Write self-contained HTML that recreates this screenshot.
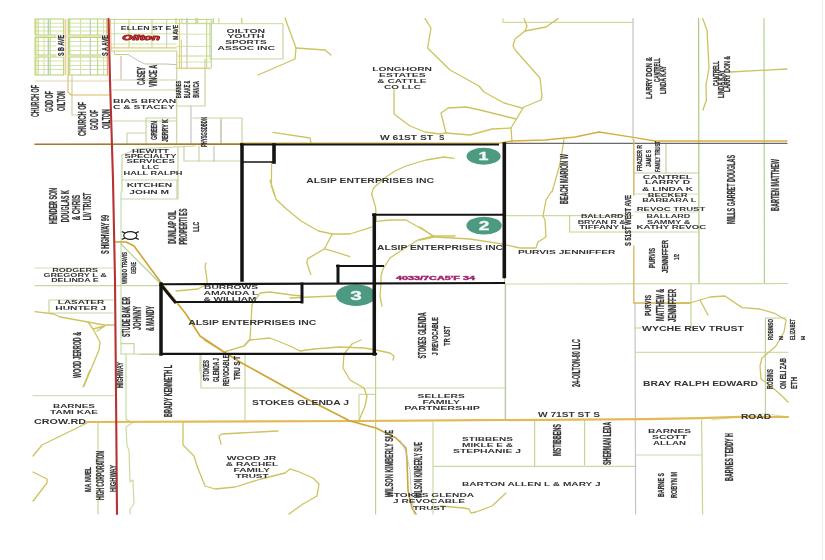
<!DOCTYPE html>
<html><head><meta charset="utf-8"><style>
html,body{margin:0;padding:0;background:#fff;width:825px;height:560px;overflow:hidden;}
svg{display:block;font-family:"Liberation Sans",sans-serif;will-change:transform;filter:blur(0.3px);}
</style></head><body>
<svg width="825" height="560" viewBox="0 0 825 560" font-family="&quot;Liberation Sans&quot;, sans-serif">
<rect width="825" height="560" fill="#ffffff"/>
<line x1="35" y1="23.2" x2="63.5" y2="23.2" stroke="#cfe2a2" stroke-width="0.9" stroke-linecap="butt"/>
<line x1="35" y1="27" x2="63.5" y2="27" stroke="#c4dc98" stroke-width="0.9" stroke-linecap="butt"/>
<line x1="35" y1="31" x2="63.5" y2="31" stroke="#cfe2a2" stroke-width="0.9" stroke-linecap="butt"/>
<line x1="35.8" y1="19" x2="35.8" y2="35" stroke="#dcdc78" stroke-width="1.4" stroke-linecap="butt"/>
<line x1="38.2" y1="19" x2="38.2" y2="35" stroke="#bcd67e" stroke-width="1.0" stroke-linecap="butt"/>
<line x1="44" y1="19" x2="44" y2="35" stroke="#cfe2a2" stroke-width="1.0" stroke-linecap="butt"/>
<line x1="48.3" y1="19" x2="48.3" y2="35" stroke="#a9c9b8" stroke-width="1.2" stroke-linecap="butt"/>
<line x1="50.2" y1="19" x2="50.2" y2="35" stroke="#bcd67e" stroke-width="1.0" stroke-linecap="butt"/>
<rect x="35" y="19" width="28.5" height="16" fill="none" stroke="#bcd67e" stroke-width="1.1"/>
<line x1="68.5" y1="23.2" x2="107.5" y2="23.2" stroke="#cfe2a2" stroke-width="0.9" stroke-linecap="butt"/>
<line x1="68.5" y1="27" x2="107.5" y2="27" stroke="#c4dc98" stroke-width="0.9" stroke-linecap="butt"/>
<line x1="68.5" y1="31" x2="107.5" y2="31" stroke="#cfe2a2" stroke-width="0.9" stroke-linecap="butt"/>
<line x1="69.7" y1="19" x2="69.7" y2="35" stroke="#bcd67e" stroke-width="1.1" stroke-linecap="butt"/>
<line x1="80.6" y1="19" x2="80.6" y2="35" stroke="#cfe2a2" stroke-width="1.0" stroke-linecap="butt"/>
<line x1="90.3" y1="19" x2="90.3" y2="35" stroke="#b8c8b8" stroke-width="1.1" stroke-linecap="butt"/>
<line x1="97.6" y1="19" x2="97.6" y2="35" stroke="#bcd67e" stroke-width="1.0" stroke-linecap="butt"/>
<line x1="103.6" y1="19" x2="103.6" y2="35" stroke="#cfe2a2" stroke-width="1.0" stroke-linecap="butt"/>
<rect x="68.5" y="19" width="39.0" height="16" fill="none" stroke="#bcd67e" stroke-width="1.1"/>
<line x1="35" y1="41.5" x2="63.5" y2="41.5" stroke="#cfe2a2" stroke-width="0.9" stroke-linecap="butt"/>
<line x1="35" y1="46" x2="63.5" y2="46" stroke="#cfe2a2" stroke-width="0.9" stroke-linecap="butt"/>
<line x1="35" y1="50.5" x2="63.5" y2="50.5" stroke="#cfe2a2" stroke-width="0.9" stroke-linecap="butt"/>
<line x1="35.8" y1="37.5" x2="35.8" y2="55" stroke="#dcdc78" stroke-width="1.4" stroke-linecap="butt"/>
<line x1="38.2" y1="37.5" x2="38.2" y2="55" stroke="#bcd67e" stroke-width="1.0" stroke-linecap="butt"/>
<line x1="44" y1="37.5" x2="44" y2="55" stroke="#cfe2a2" stroke-width="1.0" stroke-linecap="butt"/>
<line x1="48.3" y1="37.5" x2="48.3" y2="55" stroke="#a9c9b8" stroke-width="1.2" stroke-linecap="butt"/>
<line x1="50.2" y1="37.5" x2="50.2" y2="55" stroke="#bcd67e" stroke-width="1.0" stroke-linecap="butt"/>
<rect x="35" y="37.5" width="28.5" height="17.5" fill="none" stroke="#bcd67e" stroke-width="1.1"/>
<line x1="68.5" y1="41.5" x2="107.5" y2="41.5" stroke="#cfe2a2" stroke-width="0.9" stroke-linecap="butt"/>
<line x1="68.5" y1="46" x2="107.5" y2="46" stroke="#cfe2a2" stroke-width="0.9" stroke-linecap="butt"/>
<line x1="68.5" y1="50.5" x2="107.5" y2="50.5" stroke="#cfe2a2" stroke-width="0.9" stroke-linecap="butt"/>
<line x1="69.7" y1="37.5" x2="69.7" y2="55" stroke="#bcd67e" stroke-width="1.1" stroke-linecap="butt"/>
<line x1="80.6" y1="37.5" x2="80.6" y2="55" stroke="#cfe2a2" stroke-width="1.0" stroke-linecap="butt"/>
<line x1="90.3" y1="37.5" x2="90.3" y2="55" stroke="#b8c8b8" stroke-width="1.1" stroke-linecap="butt"/>
<line x1="97.6" y1="37.5" x2="97.6" y2="55" stroke="#bcd67e" stroke-width="1.0" stroke-linecap="butt"/>
<line x1="103.6" y1="37.5" x2="103.6" y2="55" stroke="#cfe2a2" stroke-width="1.0" stroke-linecap="butt"/>
<rect x="68.5" y="37.5" width="39.0" height="17.5" fill="none" stroke="#bcd67e" stroke-width="1.1"/>
<line x1="35" y1="61" x2="63.5" y2="61" stroke="#cfe2a2" stroke-width="0.9" stroke-linecap="butt"/>
<line x1="35" y1="65.5" x2="63.5" y2="65.5" stroke="#cfe2a2" stroke-width="0.9" stroke-linecap="butt"/>
<line x1="35" y1="69.5" x2="63.5" y2="69.5" stroke="#cfe2a2" stroke-width="0.9" stroke-linecap="butt"/>
<line x1="35.8" y1="57" x2="35.8" y2="75" stroke="#dcdc78" stroke-width="1.4" stroke-linecap="butt"/>
<line x1="38.2" y1="57" x2="38.2" y2="75" stroke="#bcd67e" stroke-width="1.0" stroke-linecap="butt"/>
<line x1="44" y1="57" x2="44" y2="75" stroke="#cfe2a2" stroke-width="1.0" stroke-linecap="butt"/>
<line x1="48.3" y1="57" x2="48.3" y2="75" stroke="#a9c9b8" stroke-width="1.2" stroke-linecap="butt"/>
<line x1="50.2" y1="57" x2="50.2" y2="75" stroke="#bcd67e" stroke-width="1.0" stroke-linecap="butt"/>
<rect x="35" y="57" width="28.5" height="18" fill="none" stroke="#bcd67e" stroke-width="1.1"/>
<line x1="68.5" y1="61" x2="107.5" y2="61" stroke="#cfe2a2" stroke-width="0.9" stroke-linecap="butt"/>
<line x1="68.5" y1="65.5" x2="107.5" y2="65.5" stroke="#cfe2a2" stroke-width="0.9" stroke-linecap="butt"/>
<line x1="68.5" y1="69.5" x2="107.5" y2="69.5" stroke="#cfe2a2" stroke-width="0.9" stroke-linecap="butt"/>
<line x1="69.7" y1="57" x2="69.7" y2="75" stroke="#bcd67e" stroke-width="1.1" stroke-linecap="butt"/>
<line x1="80.6" y1="57" x2="80.6" y2="75" stroke="#cfe2a2" stroke-width="1.0" stroke-linecap="butt"/>
<line x1="90.3" y1="57" x2="90.3" y2="75" stroke="#b8c8b8" stroke-width="1.1" stroke-linecap="butt"/>
<line x1="97.6" y1="57" x2="97.6" y2="75" stroke="#bcd67e" stroke-width="1.0" stroke-linecap="butt"/>
<line x1="103.6" y1="57" x2="103.6" y2="75" stroke="#cfe2a2" stroke-width="1.0" stroke-linecap="butt"/>
<rect x="68.5" y="57" width="39.0" height="18" fill="none" stroke="#bcd67e" stroke-width="1.1"/>
<line x1="35" y1="36.2" x2="108" y2="36.2" stroke="#ead6a0" stroke-width="1.0" stroke-linecap="butt"/>
<line x1="35" y1="56" x2="108" y2="56" stroke="#e8d8a8" stroke-width="1.0" stroke-linecap="butt"/>
<line x1="65.2" y1="19" x2="65.2" y2="75" stroke="#e6c27a" stroke-width="1.1" stroke-linecap="butt"/>
<line x1="67" y1="19" x2="67" y2="75" stroke="#ecdc9c" stroke-width="0.9" stroke-linecap="butt"/>
<rect x="56.5" y="34.5" width="8" height="22" fill="#fff"/>
<rect x="101" y="34.5" width="6.8" height="22" fill="#fff"/>
<line x1="114.4" y1="19" x2="114.4" y2="47.8" stroke="#c8d8c0" stroke-width="1.0" stroke-linecap="butt"/>
<line x1="129" y1="19" x2="129" y2="47.8" stroke="#bcd67e" stroke-width="1.0" stroke-linecap="butt"/>
<line x1="152" y1="19" x2="152" y2="47.8" stroke="#bcd67e" stroke-width="1.0" stroke-linecap="butt"/>
<line x1="166.7" y1="19" x2="166.7" y2="47.8" stroke="#b8d0b8" stroke-width="1.0" stroke-linecap="butt"/>
<line x1="111" y1="19.5" x2="176.7" y2="19.5" stroke="#bcd67e" stroke-width="0.9" stroke-linecap="butt"/>
<line x1="111" y1="23.3" x2="176.7" y2="23.3" stroke="#cfe2a2" stroke-width="0.9" stroke-linecap="butt"/>
<line x1="111" y1="33.8" x2="176.7" y2="33.8" stroke="#c4dc98" stroke-width="0.9" stroke-linecap="butt"/>
<line x1="111" y1="44" x2="176.7" y2="44" stroke="#cfe2a2" stroke-width="0.9" stroke-linecap="butt"/>
<line x1="111" y1="47.8" x2="176.7" y2="47.8" stroke="#e4c880" stroke-width="1.3" stroke-linecap="butt"/>
<line x1="111" y1="51" x2="176.7" y2="51" stroke="#bcd67e" stroke-width="1.0" stroke-linecap="butt"/>
<line x1="114.4" y1="51" x2="114.4" y2="54.5" stroke="#bcd67e" stroke-width="1.0" stroke-linecap="butt"/>
<line x1="114.4" y1="54.5" x2="129" y2="54.5" stroke="#bcd67e" stroke-width="1.0" stroke-linecap="butt"/>
<line x1="179.5" y1="19" x2="179.5" y2="68" stroke="#e0d080" stroke-width="1.0" stroke-linecap="butt"/>
<line x1="187" y1="19" x2="187" y2="68" stroke="#c8b8b0" stroke-width="1.0" stroke-linecap="butt"/>
<line x1="206.7" y1="19" x2="206.7" y2="68" stroke="#bcd67e" stroke-width="1.0" stroke-linecap="butt"/>
<line x1="211.3" y1="19" x2="211.3" y2="68" stroke="#b4d488" stroke-width="1.0" stroke-linecap="butt"/>
<line x1="176.7" y1="19.5" x2="211.3" y2="19.5" stroke="#bcd67e" stroke-width="0.9" stroke-linecap="butt"/>
<line x1="176.7" y1="23.3" x2="211.3" y2="23.3" stroke="#bcd67e" stroke-width="0.9" stroke-linecap="butt"/>
<line x1="176.7" y1="34.2" x2="211.3" y2="34.2" stroke="#cfe2a2" stroke-width="0.9" stroke-linecap="butt"/>
<line x1="176.7" y1="46.4" x2="211.3" y2="46.4" stroke="#c4dc98" stroke-width="0.9" stroke-linecap="butt"/>
<line x1="176.7" y1="56" x2="211.3" y2="56" stroke="#bcd67e" stroke-width="0.9" stroke-linecap="butt"/>
<line x1="176.7" y1="62" x2="211.3" y2="62" stroke="#cfe2a2" stroke-width="0.9" stroke-linecap="butt"/>
<line x1="176.7" y1="68.6" x2="211.3" y2="68.6" stroke="#e0d080" stroke-width="0.9" stroke-linecap="butt"/>
<line x1="176" y1="18" x2="176" y2="23.9" stroke="#d8d070" stroke-width="1.3" stroke-linecap="butt"/>
<line x1="181.8" y1="18" x2="181.8" y2="23.9" stroke="#cfe2a2" stroke-width="1.3" stroke-linecap="butt"/>
<line x1="187" y1="18" x2="187" y2="23.9" stroke="#c8c8c0" stroke-width="1.3" stroke-linecap="butt"/>
<line x1="196" y1="18" x2="196" y2="23.9" stroke="#bcd67e" stroke-width="1.3" stroke-linecap="butt"/>
<line x1="197.6" y1="18" x2="197.6" y2="23.9" stroke="#c4dc98" stroke-width="1.3" stroke-linecap="butt"/>
<line x1="213.3" y1="18" x2="213.3" y2="23.9" stroke="#bcd67e" stroke-width="1.3" stroke-linecap="butt"/>
<line x1="218.8" y1="18" x2="218.8" y2="23.9" stroke="#cfe2a2" stroke-width="1.3" stroke-linecap="butt"/>
<line x1="241.7" y1="18" x2="241.7" y2="23.9" stroke="#bcd67e" stroke-width="1.3" stroke-linecap="butt"/>
<line x1="176.7" y1="23.7" x2="283" y2="23.7" stroke="#c4dc98" stroke-width="1.0" stroke-linecap="butt"/>
<polyline points="210.0,24.0 210.0,59.0 283.0,59.0 283.0,24.0" fill="none" stroke="#c6d6a0" stroke-width="1.2" stroke-linejoin="round" stroke-linecap="round"/>
<polyline points="176.7,51.0 176.7,144.0" fill="none" stroke="#c8d8a0" stroke-width="1.2" stroke-linejoin="round" stroke-linecap="round"/>
<polyline points="176.0,68.0 210.0,68.0" fill="none" stroke="#e0d080" stroke-width="1.2" stroke-linejoin="round" stroke-linecap="round"/>
<polyline points="181.4,40.0 181.4,68.0" fill="none" stroke="#e0d080" stroke-width="1.2" stroke-linejoin="round" stroke-linecap="round"/>
<polyline points="205.0,59.0 205.0,106.0 176.0,106.0" fill="none" stroke="#c6d6a0" stroke-width="1.2" stroke-linejoin="round" stroke-linecap="round"/>
<polyline points="113.0,90.0 176.0,90.0" fill="none" stroke="#c8d8b0" stroke-width="1.2" stroke-linejoin="round" stroke-linecap="round"/>
<polyline points="121.0,56.5 121.0,79.0" fill="none" stroke="#e0b8a8" stroke-width="1.2" stroke-linejoin="round" stroke-linecap="round"/>
<polyline points="113.0,80.0 176.0,80.0" fill="none" stroke="#c8d8b0" stroke-width="1.2" stroke-linejoin="round" stroke-linecap="round"/>
<polyline points="129.0,55.0 138.5,61.0 145.0,64.0 165.0,64.0 176.0,64.6" fill="none" stroke="#b0b0a0" stroke-width="0.8" stroke-linejoin="round" stroke-linecap="round"/>
<polyline points="113.0,121.0 176.0,121.0" fill="none" stroke="#c6d6a0" stroke-width="1.2" stroke-linejoin="round" stroke-linecap="round"/>
<polyline points="146.0,144.0 146.0,118.0 176.0,118.0" fill="none" stroke="#c6d6a0" stroke-width="1.2" stroke-linejoin="round" stroke-linecap="round"/>
<polyline points="127.0,144.0 127.0,133.0 146.0,133.0" fill="none" stroke="#c6d6a0" stroke-width="1.2" stroke-linejoin="round" stroke-linecap="round"/>
<polyline points="191.0,106.0 191.0,144.0" fill="none" stroke="#c4c4c4" stroke-width="1.2" stroke-linejoin="round" stroke-linecap="round"/>
<polyline points="193.0,118.0 242.0,118.0 242.0,144.0" fill="none" stroke="#c6d6a0" stroke-width="1.2" stroke-linejoin="round" stroke-linecap="round"/>
<polyline points="221.0,118.0 221.0,144.0" fill="none" stroke="#c6d6a0" stroke-width="1.2" stroke-linejoin="round" stroke-linecap="round"/>
<polyline points="221.0,120.0 221.0,143.0" fill="none" stroke="#c4c4c4" stroke-width="1.2" stroke-linejoin="round" stroke-linecap="round"/>
<polyline points="72.0,75.0 72.0,115.0 82.0,115.0" fill="none" stroke="#c6d6a0" stroke-width="1.2" stroke-linejoin="round" stroke-linecap="round"/>
<polyline points="68.0,75.0 68.0,92.0 71.0,95.0 109.0,95.0" fill="none" stroke="#e0b860" stroke-width="1.1" stroke-linejoin="round" stroke-linecap="round"/>
<polyline points="35.0,81.0 109.0,81.0" fill="none" stroke="#d8c8a0" stroke-width="0.8" stroke-linejoin="round" stroke-linecap="round"/>
<polyline points="184.0,146.0 184.0,161.0 240.0,161.0" fill="none" stroke="#c6d6a0" stroke-width="1.2" stroke-linejoin="round" stroke-linecap="round"/>
<polyline points="199.0,146.0 199.0,161.0" fill="none" stroke="#c6d6a0" stroke-width="1.2" stroke-linejoin="round" stroke-linecap="round"/>
<polyline points="214.0,146.0 214.0,161.0" fill="none" stroke="#c4c4c4" stroke-width="1.2" stroke-linejoin="round" stroke-linecap="round"/>
<polyline points="122.0,192.0 122.0,155.0 137.0,149.0 195.0,146.0" fill="none" stroke="#c6d6a0" stroke-width="1.2" stroke-linejoin="round" stroke-linecap="round"/>
<polyline points="178.0,147.0 178.0,199.0" fill="none" stroke="#c6d6a0" stroke-width="1.2" stroke-linejoin="round" stroke-linecap="round"/>
<polyline points="122.0,180.0 178.0,180.0" fill="none" stroke="#c6d6a0" stroke-width="1.2" stroke-linejoin="round" stroke-linecap="round"/>
<polyline points="121.0,199.0 177.0,199.0 177.0,180.0" fill="none" stroke="#c6d6a0" stroke-width="1.2" stroke-linejoin="round" stroke-linecap="round"/>
<polyline points="121.0,192.0 121.0,354.0" fill="none" stroke="#c8dcb0" stroke-width="1.2" stroke-linejoin="round" stroke-linecap="round"/>
<polyline points="121.0,244.0 159.0,282.0" fill="none" stroke="#b8d098" stroke-width="1.2" stroke-linejoin="round" stroke-linecap="round"/>
<polyline points="35.0,268.0 113.0,268.0" fill="none" stroke="#d0e0b8" stroke-width="1.2" stroke-linejoin="round" stroke-linecap="round"/>
<polyline points="35.0,285.6 160.0,285.6" fill="none" stroke="#c6d6a0" stroke-width="1.2" stroke-linejoin="round" stroke-linecap="round"/>
<polyline points="49.0,312.0 49.0,300.0 113.0,300.0" fill="none" stroke="#c6d6a0" stroke-width="1.2" stroke-linejoin="round" stroke-linecap="round"/>
<polyline points="49.0,313.0 113.0,313.0" fill="none" stroke="#c6d6a0" stroke-width="1.2" stroke-linejoin="round" stroke-linecap="round"/>
<polyline points="121.0,354.0 160.0,354.0" fill="none" stroke="#c6d6a0" stroke-width="1.2" stroke-linejoin="round" stroke-linecap="round"/>
<polyline points="121.0,343.6 134.0,343.6 134.0,354.0" fill="none" stroke="#c6d6a0" stroke-width="1.2" stroke-linejoin="round" stroke-linecap="round"/>
<polyline points="126.0,354.0 126.0,419.0 132.0,423.0 126.0,427.0 127.0,446.0 129.0,450.0 130.0,482.0 133.0,480.0 134.0,504.0 130.0,509.0 130.0,514.0" fill="none" stroke="#c8dca0" stroke-width="1.2" stroke-linejoin="round" stroke-linecap="round"/>
<polyline points="33.0,395.6 114.0,395.6" fill="none" stroke="#d0e0b8" stroke-width="1.2" stroke-linejoin="round" stroke-linecap="round"/>
<polyline points="98.0,423.0 98.0,514.0" fill="none" stroke="#c8d890" stroke-width="1.2" stroke-linejoin="round" stroke-linecap="round"/>
<polyline points="140.0,354.4 160.0,354.4" fill="none" stroke="#c6d6a0" stroke-width="1.2" stroke-linejoin="round" stroke-linecap="round"/>
<polyline points="201.0,354.0 201.0,388.0 245.0,388.0" fill="none" stroke="#c6d6a0" stroke-width="1.2" stroke-linejoin="round" stroke-linecap="round"/>
<polyline points="245.0,354.0 245.0,422.0" fill="none" stroke="#c6d6a0" stroke-width="1.2" stroke-linejoin="round" stroke-linecap="round"/>
<polyline points="245.0,388.0 376.0,388.0" fill="none" stroke="#c8dca0" stroke-width="1.2" stroke-linejoin="round" stroke-linecap="round"/>
<polyline points="359.0,422.0 359.0,394.4 375.0,394.4" fill="none" stroke="#c8dca0" stroke-width="1.2" stroke-linejoin="round" stroke-linecap="round"/>
<polyline points="375.6,354.0 375.6,514.0" fill="none" stroke="#bcd48a" stroke-width="1.2" stroke-linejoin="round" stroke-linecap="round"/>
<polyline points="200.0,355.0 200.0,372.0" fill="none" stroke="#c8dca0" stroke-width="1.2" stroke-linejoin="round" stroke-linecap="round"/>
<polyline points="376.0,388.0 505.6,388.0" fill="none" stroke="#c8dca0" stroke-width="1.2" stroke-linejoin="round" stroke-linecap="round"/>
<polyline points="505.4,284.0 505.4,419.0" fill="none" stroke="#b8c9a8" stroke-width="1.4" stroke-linejoin="round" stroke-linecap="round"/>
<polyline points="504.5,277.0 504.5,284.0" fill="none" stroke="#c4d890" stroke-width="1.2" stroke-linejoin="round" stroke-linecap="round"/>
<polyline points="433.0,422.0 433.0,514.0" fill="none" stroke="#c8dca0" stroke-width="1.2" stroke-linejoin="round" stroke-linecap="round"/>
<polyline points="433.0,466.4 636.0,466.4" fill="none" stroke="#c8dca0" stroke-width="1.2" stroke-linejoin="round" stroke-linecap="round"/>
<polyline points="534.6,420.0 534.6,465.6" fill="none" stroke="#c0d890" stroke-width="1.2" stroke-linejoin="round" stroke-linecap="round"/>
<polyline points="584.6,420.0 584.6,465.0" fill="none" stroke="#c0d890" stroke-width="1.2" stroke-linejoin="round" stroke-linecap="round"/>
<polyline points="506.0,215.6 633.0,215.6" fill="none" stroke="#c8dca0" stroke-width="1.2" stroke-linejoin="round" stroke-linecap="round"/>
<polyline points="506.0,284.0 788.0,283.5" fill="none" stroke="#c8dca0" stroke-width="1.2" stroke-linejoin="round" stroke-linecap="round"/>
<polyline points="569.6,215.0 569.6,232.0 633.0,232.0" fill="none" stroke="#c0d890" stroke-width="1.2" stroke-linejoin="round" stroke-linecap="round"/>
<polyline points="633.0,18.6 633.0,140.0" fill="none" stroke="#c4c4c4" stroke-width="1.2" stroke-linejoin="round" stroke-linecap="round"/>
<polyline points="635.0,303.0 635.6,514.0" fill="none" stroke="#c4c4c4" stroke-width="1.2" stroke-linejoin="round" stroke-linecap="round"/>
<polyline points="503.0,18.6 503.0,22.4 633.0,22.4" fill="none" stroke="#d0dca0" stroke-width="1.2" stroke-linejoin="round" stroke-linecap="round"/>
<polyline points="698.6,18.6 699.0,283.0" fill="none" stroke="#a8cc80" stroke-width="1.2" stroke-linejoin="round" stroke-linecap="round"/>
<polyline points="764.0,18.6 764.4,283.0" fill="none" stroke="#b4d090" stroke-width="1.2" stroke-linejoin="round" stroke-linecap="round"/>
<polyline points="666.0,143.0 666.0,173.0 634.0,173.0 698.0,173.0" fill="none" stroke="#c0d0a0" stroke-width="1.2" stroke-linejoin="round" stroke-linecap="round"/>
<polyline points="634.0,194.0 699.0,194.0" fill="none" stroke="#d0e0b8" stroke-width="1.2" stroke-linejoin="round" stroke-linecap="round"/>
<polyline points="634.0,212.0 699.0,212.0" fill="none" stroke="#d0e0b8" stroke-width="1.2" stroke-linejoin="round" stroke-linecap="round"/>
<polyline points="634.0,232.0 699.0,232.0" fill="none" stroke="#c8dca0" stroke-width="1.2" stroke-linejoin="round" stroke-linecap="round"/>
<polyline points="691.0,283.0 691.0,327.0" fill="none" stroke="#c0d890" stroke-width="1.2" stroke-linejoin="round" stroke-linecap="round"/>
<polyline points="635.0,328.0 641.0,328.0" fill="none" stroke="#c0d890" stroke-width="1.2" stroke-linejoin="round" stroke-linecap="round"/>
<polyline points="635.0,352.4 788.0,352.4" fill="none" stroke="#d0e0a8" stroke-width="1.2" stroke-linejoin="round" stroke-linecap="round"/>
<polyline points="765.4,414.0 765.4,318.0 786.0,318.0" fill="none" stroke="#c0d0a0" stroke-width="1.2" stroke-linejoin="round" stroke-linecap="round"/>
<polyline points="701.6,420.0 702.6,514.0" fill="none" stroke="#c0d890" stroke-width="1.2" stroke-linejoin="round" stroke-linecap="round"/>
<polyline points="636.0,455.0 701.0,455.0" fill="none" stroke="#c8dca0" stroke-width="1.2" stroke-linejoin="round" stroke-linecap="round"/>
<polyline points="712.0,420.0 766.0,413.6 788.0,417.0" fill="none" stroke="#c8dca0" stroke-width="0.8" stroke-linejoin="round" stroke-linecap="round"/>
<polyline points="285.0,18.0 296.0,48.0 295.0,59.0 265.0,72.0 258.0,75.0" fill="none" stroke="#cdc460" stroke-width="1.3" stroke-linejoin="round" stroke-linecap="round"/>
<polyline points="296.0,48.0 325.0,50.0 331.0,55.0" fill="none" stroke="#cdc460" stroke-width="1.3" stroke-linejoin="round" stroke-linecap="round"/>
<polyline points="425.0,18.6 431.0,28.0 427.6,48.0 450.0,70.0 479.0,86.0 484.0,92.0 504.0,103.0 522.0,108.0" fill="none" stroke="#cdc460" stroke-width="1.3" stroke-linejoin="round" stroke-linecap="round"/>
<polyline points="524.0,18.6 527.0,26.0 525.0,31.0 515.0,39.0 513.0,46.0 516.0,51.0 540.0,78.0 542.0,96.0 541.0,100.0 524.0,107.0 523.0,108.0" fill="none" stroke="#cdc460" stroke-width="1.3" stroke-linejoin="round" stroke-linecap="round"/>
<polyline points="525.0,31.0 546.0,27.0 558.0,18.6" fill="none" stroke="#cdc460" stroke-width="1.3" stroke-linejoin="round" stroke-linecap="round"/>
<polyline points="523.0,108.0 511.0,128.0 512.0,142.0" fill="none" stroke="#cdc460" stroke-width="1.3" stroke-linejoin="round" stroke-linecap="round"/>
<polyline points="446.0,133.0 441.0,113.0 448.0,108.0 466.0,107.0 480.0,110.0 516.0,119.0" fill="none" stroke="#cdc460" stroke-width="1.3" stroke-linejoin="round" stroke-linecap="round"/>
<polyline points="446.0,133.0 470.0,135.0 492.0,129.0 511.0,128.0" fill="none" stroke="#cdc460" stroke-width="1.3" stroke-linejoin="round" stroke-linecap="round"/>
<polyline points="394.0,90.0 394.0,114.0 410.0,126.0 425.0,132.0 440.0,134.0 446.0,133.0" fill="none" stroke="#cdc460" stroke-width="1.3" stroke-linejoin="round" stroke-linecap="round"/>
<polyline points="273.0,132.4 310.0,138.0 311.0,143.0" fill="none" stroke="#cdc460" stroke-width="1.3" stroke-linejoin="round" stroke-linecap="round"/>
<polyline points="564.0,139.0 563.0,146.0 560.0,164.0 552.0,192.0 551.0,192.0 546.0,200.0 543.0,216.0 545.0,220.0 546.0,237.0 538.0,242.0 536.0,248.0 520.0,248.0 500.0,243.6 470.0,239.0 434.0,237.0 420.0,227.0" fill="none" stroke="#cdc460" stroke-width="1.3" stroke-linejoin="round" stroke-linecap="round"/>
<polyline points="434.0,237.0 420.0,240.0" fill="none" stroke="#cdc460" stroke-width="1.3" stroke-linejoin="round" stroke-linecap="round"/>
<polyline points="702.6,18.6 707.0,30.0 709.0,68.0 708.0,74.0 706.0,85.0 706.4,100.0 703.0,110.0" fill="none" stroke="#cdc460" stroke-width="1.3" stroke-linejoin="round" stroke-linecap="round"/>
<polyline points="730.0,72.0 787.0,69.0" fill="none" stroke="#cdc460" stroke-width="1.3" stroke-linejoin="round" stroke-linecap="round"/>
<polyline points="271.6,162.0 271.4,186.0 276.3,199.6 287.0,209.5 301.0,221.0 318.6,231.0 332.3,234.0 350.0,234.0 371.6,227.2" fill="none" stroke="#cdc460" stroke-width="1.3" stroke-linejoin="round" stroke-linecap="round"/>
<polyline points="454.0,158.4 444.0,157.0 426.0,160.0 406.0,166.0 395.0,171.0 386.0,177.0 378.0,184.0 373.6,187.9 371.6,193.8 375.6,207.5 376.5,221.3" fill="none" stroke="#cdc460" stroke-width="1.3" stroke-linejoin="round" stroke-linecap="round"/>
<polyline points="332.3,234.0 324.5,248.8 307.8,258.6 306.8,262.5 310.7,274.3" fill="none" stroke="#cdc460" stroke-width="1.3" stroke-linejoin="round" stroke-linecap="round"/>
<polyline points="324.5,248.8 334.3,251.7 350.0,256.6" fill="none" stroke="#cdc460" stroke-width="1.3" stroke-linejoin="round" stroke-linecap="round"/>
<polyline points="376.5,221.3 390.0,220.0 406.0,220.0 434.0,236.0 455.0,236.0" fill="none" stroke="#cdc460" stroke-width="1.3" stroke-linejoin="round" stroke-linecap="round"/>
<polyline points="434.0,236.0 418.0,240.0 402.0,250.0 390.0,258.0 383.0,269.0 381.0,276.0 381.0,283.0 380.0,296.0 382.0,306.0" fill="none" stroke="#cdc460" stroke-width="1.3" stroke-linejoin="round" stroke-linecap="round"/>
<polyline points="270.0,180.0 275.0,196.0" fill="none" stroke="#cdc460" stroke-width="1.3" stroke-linejoin="round" stroke-linecap="round"/>
<polyline points="206.0,263.0 205.0,266.0 207.0,280.0 207.0,284.0 198.0,289.0 176.0,291.0" fill="none" stroke="#cdc460" stroke-width="1.3" stroke-linejoin="round" stroke-linecap="round"/>
<polyline points="290.0,298.0 310.0,297.0 336.0,296.0" fill="none" stroke="#cdc460" stroke-width="1.3" stroke-linejoin="round" stroke-linecap="round"/>
<polyline points="252.0,305.0 260.0,293.0 270.0,292.0 292.0,295.0 302.0,296.0" fill="none" stroke="#cdc460" stroke-width="1.3" stroke-linejoin="round" stroke-linecap="round"/>
<polyline points="252.0,305.0 250.0,340.0 244.0,346.0 224.0,352.0" fill="none" stroke="#cdc460" stroke-width="1.3" stroke-linejoin="round" stroke-linecap="round"/>
<polyline points="204.0,340.0 224.0,352.0 244.0,346.0 249.0,340.0" fill="none" stroke="#cdc460" stroke-width="1.3" stroke-linejoin="round" stroke-linecap="round"/>
<polyline points="361.0,340.0 352.0,344.0 344.0,354.0 343.0,368.0 350.0,380.0 364.0,388.0 367.0,396.0 365.0,406.0 360.0,418.0 359.0,422.0" fill="none" stroke="#cdc460" stroke-width="1.3" stroke-linejoin="round" stroke-linecap="round"/>
<polyline points="250.0,340.0 270.0,338.0 290.0,346.0 300.0,351.0 314.0,349.0 340.0,347.0 364.0,348.0 376.0,350.0 390.0,353.0 394.0,356.0 393.0,360.0" fill="none" stroke="#cdc460" stroke-width="1.3" stroke-linejoin="round" stroke-linecap="round"/>
<polyline points="35.0,311.6 54.0,314.0 60.0,317.0 88.0,322.0 104.0,325.0 115.0,325.0" fill="none" stroke="#cdc460" stroke-width="1.3" stroke-linejoin="round" stroke-linecap="round"/>
<polyline points="88.0,322.0 93.0,329.0 100.0,342.0 99.0,350.0 84.0,386.0" fill="none" stroke="#cdc460" stroke-width="1.3" stroke-linejoin="round" stroke-linecap="round"/>
<polyline points="93.0,329.0 105.0,326.0 97.0,331.0" fill="none" stroke="#cdc460" stroke-width="1.3" stroke-linejoin="round" stroke-linecap="round"/>
<polyline points="90.0,370.0 83.0,387.0" fill="none" stroke="#cdc460" stroke-width="1.3" stroke-linejoin="round" stroke-linecap="round"/>
<polyline points="87.0,423.0 42.0,445.0 33.0,456.0" fill="none" stroke="#cdc460" stroke-width="1.3" stroke-linejoin="round" stroke-linecap="round"/>
<polyline points="33.0,472.0 47.0,479.0 47.0,483.0 33.0,501.0" fill="none" stroke="#cdc460" stroke-width="1.3" stroke-linejoin="round" stroke-linecap="round"/>
<polyline points="183.0,422.0 183.0,445.0 194.0,456.0 197.0,466.0 205.0,486.0 215.0,489.0 235.0,487.0 261.0,479.0 285.0,473.0 290.0,469.0 297.0,471.0 313.0,478.0 319.0,484.0 317.0,496.0 303.0,504.0 289.0,514.0" fill="none" stroke="#cdc460" stroke-width="1.3" stroke-linejoin="round" stroke-linecap="round"/>
<polyline points="221.0,444.0 219.0,436.0 222.0,434.0 240.0,433.0 278.0,431.0" fill="none" stroke="#cdc460" stroke-width="1.3" stroke-linejoin="round" stroke-linecap="round"/>
<polyline points="440.0,506.0 464.0,508.0 469.0,509.0 471.0,513.0 476.0,512.0 492.0,506.0 506.0,493.0" fill="none" stroke="#cdc460" stroke-width="1.3" stroke-linejoin="round" stroke-linecap="round"/>
<polyline points="660.0,303.6 690.0,303.0 700.0,300.0 710.0,297.0 725.0,296.0 742.0,307.6 760.0,309.0 774.0,313.0 786.0,320.0 784.0,332.0 776.0,346.0 762.0,358.0 760.0,366.0 761.0,379.0 768.0,384.0 780.0,394.0 788.0,402.0" fill="none" stroke="#cdc460" stroke-width="1.3" stroke-linejoin="round" stroke-linecap="round"/>
<polyline points="700.0,300.0 708.0,315.0" fill="none" stroke="#cdc460" stroke-width="1.3" stroke-linejoin="round" stroke-linecap="round"/>
<polyline points="35.0,144.3 240.0,144.1" fill="none" stroke="#a27c2c" stroke-width="1.6" stroke-linejoin="round" stroke-linecap="round"/>
<polyline points="240.0,143.2 500.0,143.0 512.0,141.0 545.0,140.0 575.0,137.0 599.0,132.0 635.0,137.6 655.0,141.0 787.0,141.0" fill="none" stroke="#d6ae40" stroke-width="1.4" stroke-linejoin="round" stroke-linecap="round"/>
<polyline points="504.0,143.3 787.0,143.3" fill="none" stroke="#6a6a6a" stroke-width="1.2" stroke-linejoin="round" stroke-linecap="round"/>
<polyline points="87.0,422.0 360.0,421.0 480.0,420.2 645.0,419.2 700.0,418.2 740.0,416.8 788.0,417.0" fill="none" stroke="#e2ba56" stroke-width="2.2" stroke-linejoin="round" stroke-linecap="round"/>
<polyline points="633.8,140.0 633.8,195.0" fill="none" stroke="#d8b658" stroke-width="1.4" stroke-linejoin="round" stroke-linecap="round"/>
<polyline points="633.8,246.0 633.8,303.0 690.0,303.0" fill="none" stroke="#d8b658" stroke-width="1.3" stroke-linejoin="round" stroke-linecap="round"/>
<polyline points="115.0,242.0 126.0,242.0 134.0,246.0 162.0,284.0 186.0,314.0 200.0,336.0 224.0,352.0 240.0,362.0 305.0,398.0 350.0,421.0 376.0,428.0 386.0,433.0 396.0,438.0 406.0,448.0 407.0,460.0 408.0,490.0 412.0,508.0 416.0,514.0" fill="none" stroke="#cfa434" stroke-width="1.6" stroke-linejoin="round" stroke-linecap="round"/>
<polyline points="400.0,440.0 406.0,452.0 410.0,470.0 411.0,490.0 414.0,514.0" fill="none" stroke="#b8c8a8" stroke-width="0.8" stroke-linejoin="round" stroke-linecap="round"/>
<polyline points="108.6,19.0 110.0,80.0 113.0,180.0 115.0,280.0 116.0,392.0 117.0,514.0" fill="none" stroke="#b83232" stroke-width="2.1" stroke-linejoin="round" stroke-linecap="round"/>
<polyline points="106.8,19.0 107.5,75.0" fill="none" stroke="#e8a070" stroke-width="1.0" stroke-linejoin="round" stroke-linecap="round"/>
<polyline points="110.4,19.0 111.2,50.0" fill="none" stroke="#eab080" stroke-width="0.9" stroke-linejoin="round" stroke-linecap="round"/>
<ellipse cx="483.6" cy="156.2" rx="17" ry="8.5" fill="#4c9a82"/>
<text x="0" y="0" font-size="11.2" font-weight="bold" fill="#f4fbf8" text-anchor="middle" stroke="#f4fbf8" stroke-width="0.3" transform="translate(483.6,160.21) scale(1.6,1)">1</text>
<ellipse cx="484.1" cy="225.6" rx="17.7" ry="8.9" fill="#4c9a82"/>
<text x="0" y="0" font-size="11.9" font-weight="bold" fill="#f4fbf8" text-anchor="middle" stroke="#f4fbf8" stroke-width="0.3" transform="translate(484.1,229.86) scale(1.6,1)">2</text>
<ellipse cx="356" cy="295.2" rx="20" ry="10.8" fill="#4c9a82"/>
<text x="0" y="0" font-size="13" font-weight="bold" fill="#f4fbf8" text-anchor="middle" stroke="#f4fbf8" stroke-width="0.3" transform="translate(356,299.85) scale(1.6,1)">3</text>
<line x1="241" y1="144.5" x2="498" y2="144.5" stroke="#141414" stroke-width="2.0" stroke-linecap="square"/>
<line x1="242" y1="145" x2="242" y2="280" stroke="#141414" stroke-width="3.5" stroke-linecap="square"/>
<line x1="242" y1="162" x2="273" y2="162" stroke="#141414" stroke-width="1.6" stroke-linecap="square"/>
<line x1="274" y1="145" x2="274" y2="162" stroke="#141414" stroke-width="3.6" stroke-linecap="square"/>
<line x1="504.3" y1="144" x2="504.3" y2="276.5" stroke="#141414" stroke-width="3.6" stroke-linecap="square"/>
<line x1="373" y1="214.8" x2="504" y2="214.8" stroke="#141414" stroke-width="2.0" stroke-linecap="square"/>
<line x1="374.3" y1="215" x2="374.3" y2="354" stroke="#141414" stroke-width="3.5" stroke-linecap="square"/>
<line x1="337" y1="266" x2="383" y2="266" stroke="#141414" stroke-width="2.0" stroke-linecap="square"/>
<line x1="338" y1="266" x2="338" y2="282" stroke="#141414" stroke-width="3.0" stroke-linecap="square"/>
<line x1="161" y1="284.2" x2="504" y2="283" stroke="#141414" stroke-width="2.1" stroke-linecap="square"/>
<line x1="161" y1="285" x2="175" y2="302" stroke="#141414" stroke-width="3.0" stroke-linecap="square"/>
<line x1="175" y1="302" x2="302" y2="302" stroke="#141414" stroke-width="2.0" stroke-linecap="square"/>
<line x1="302" y1="284" x2="302" y2="302" stroke="#141414" stroke-width="3.0" stroke-linecap="square"/>
<line x1="161" y1="284" x2="161" y2="354" stroke="#141414" stroke-width="3.5" stroke-linecap="square"/>
<line x1="161" y1="353.8" x2="376" y2="353.8" stroke="#141414" stroke-width="2.2" stroke-linecap="square"/>
<g transform="translate(0,280.2) scale(1,0.62) translate(0,-280.2)"><text x="396" y="280.2" font-size="7.2" font-weight="bold" fill="#a0206c" stroke="#a0206c" stroke-width="0.5" textLength="79" lengthAdjust="spacingAndGlyphs">4033/7CA5'F 34</text></g>
<g stroke="#1e1e1e" stroke-width="1.2" fill="none"><ellipse cx="130.3" cy="235.5" rx="6.6" ry="3.9"/><path d="M121.8,231.6 L125.2,233 M138.8,231.6 L135.4,233 M121.8,239.4 L125.2,238 M138.8,239.4 L135.4,238"/></g>
<text x="122.3" y="40" font-size="7.6" font-weight="bold" font-style="italic" fill="#c42a2a" stroke="#7a1414" stroke-width="0.9" paint-order="stroke" stroke-linejoin="round" textLength="37.6" lengthAdjust="spacingAndGlyphs">Oilton</text>
<text x="120.8" y="29.7" font-size="5.58659217877095" font-weight="bold" fill="#343434" textLength="50.6" lengthAdjust="spacingAndGlyphs">ELLEN ST E</text>
<text transform="translate(178.2,39.8) rotate(-90)" font-size="7.68" font-weight="bold" fill="#343434" stroke="#343434" stroke-width="0.25" textLength="14.8" lengthAdjust="spacingAndGlyphs">M AVE</text>
<text x="226.5" y="32.7" font-size="5.865921787709498" font-weight="bold" fill="#343434" textLength="38.6" lengthAdjust="spacingAndGlyphs">OILTON</text>
<text x="227.3" y="38.3" font-size="5.865921787709498" font-weight="bold" fill="#343434" textLength="37.0" lengthAdjust="spacingAndGlyphs">YOUTH</text>
<text x="225.2" y="44.3" font-size="5.865921787709498" font-weight="bold" fill="#343434" textLength="41.5" lengthAdjust="spacingAndGlyphs">SPORTS</text>
<text x="217.6" y="50.3" font-size="5.865921787709498" font-weight="bold" fill="#343434" textLength="57.3" lengthAdjust="spacingAndGlyphs">ASSOC INC</text>
<text transform="translate(63.8,56.0) rotate(-90)" font-size="9.08" font-weight="bold" fill="#343434" stroke="#343434" stroke-width="0.25" textLength="21.0" lengthAdjust="spacingAndGlyphs">S B AVE</text>
<text transform="translate(108.2,56.0) rotate(-90)" font-size="9.08" font-weight="bold" fill="#343434" stroke="#343434" stroke-width="0.25" textLength="21.0" lengthAdjust="spacingAndGlyphs">S A AVE</text>
<text transform="translate(145.0,85.0) rotate(-90)" font-size="10.06" font-weight="bold" fill="#343434" stroke="#343434" stroke-width="0.25" textLength="17.9" lengthAdjust="spacingAndGlyphs">CASEY</text>
<text transform="translate(156.6,87.0) rotate(-90)" font-size="10.47" font-weight="bold" fill="#343434" stroke="#343434" stroke-width="0.25" textLength="22.3" lengthAdjust="spacingAndGlyphs">VINCE A</text>
<text transform="translate(181.0,98.2) rotate(-90)" font-size="7.40" font-weight="bold" fill="#343434" stroke="#343434" stroke-width="0.25" textLength="17.5" lengthAdjust="spacingAndGlyphs">BARNES</text>
<text transform="translate(189.8,98.2) rotate(-90)" font-size="8.38" font-weight="bold" fill="#343434" stroke="#343434" stroke-width="0.25" textLength="17.5" lengthAdjust="spacingAndGlyphs">BLAKE &amp;</text>
<text transform="translate(198.9,97.7) rotate(-90)" font-size="9.08" font-weight="bold" fill="#343434" stroke="#343434" stroke-width="0.25" textLength="16.5" lengthAdjust="spacingAndGlyphs">BIANCA</text>
<text x="113.0" y="102.5" font-size="5.726256983240223" font-weight="bold" fill="#343434" textLength="63.2" lengthAdjust="spacingAndGlyphs">BIAS BRYAN</text>
<text x="113.0" y="108.6" font-size="5.726256983240223" font-weight="bold" fill="#343434" textLength="61.5" lengthAdjust="spacingAndGlyphs">C &amp; STACEY</text>
<text transform="translate(39.2,117.0) rotate(-90)" font-size="10.47" font-weight="bold" fill="#343434" stroke="#343434" stroke-width="0.25" textLength="32.0" lengthAdjust="spacingAndGlyphs">CHURCH OF</text>
<text transform="translate(53.2,112.0) rotate(-90)" font-size="10.47" font-weight="bold" fill="#343434" stroke="#343434" stroke-width="0.25" textLength="21.0" lengthAdjust="spacingAndGlyphs">GOD OF</text>
<text transform="translate(65.2,111.0) rotate(-90)" font-size="10.47" font-weight="bold" fill="#343434" stroke="#343434" stroke-width="0.25" textLength="20.0" lengthAdjust="spacingAndGlyphs">OILTON</text>
<text transform="translate(86.2,136.0) rotate(-90)" font-size="10.47" font-weight="bold" fill="#343434" stroke="#343434" stroke-width="0.25" textLength="34.0" lengthAdjust="spacingAndGlyphs">CHURCH OF</text>
<text transform="translate(98.2,130.0) rotate(-90)" font-size="10.47" font-weight="bold" fill="#343434" stroke="#343434" stroke-width="0.25" textLength="20.0" lengthAdjust="spacingAndGlyphs">GOD OF</text>
<text transform="translate(109.8,129.0) rotate(-90)" font-size="10.47" font-weight="bold" fill="#343434" stroke="#343434" stroke-width="0.25" textLength="20.0" lengthAdjust="spacingAndGlyphs">OILTON</text>
<text transform="translate(156.5,140.0) rotate(-90)" font-size="9.78" font-weight="bold" fill="#343434" stroke="#343434" stroke-width="0.25" textLength="19.0" lengthAdjust="spacingAndGlyphs">GREEN</text>
<text transform="translate(167.5,142.0) rotate(-90)" font-size="9.78" font-weight="bold" fill="#343434" stroke="#343434" stroke-width="0.25" textLength="23.0" lengthAdjust="spacingAndGlyphs">JERRY K</text>
<text transform="translate(207.0,147.0) rotate(-90)" font-size="9.78" font-weight="bold" fill="#343434" stroke="#343434" stroke-width="0.25" textLength="30.0" lengthAdjust="spacingAndGlyphs">PHYSGSDBDN</text>
<text x="132.0" y="152.6" font-size="5.027932960893855" font-weight="bold" fill="#343434" textLength="37.0" lengthAdjust="spacingAndGlyphs">HEWITT</text>
<text x="124.4" y="158.0" font-size="5.027932960893855" font-weight="bold" fill="#343434" textLength="52.2" lengthAdjust="spacingAndGlyphs">SPECIALTY</text>
<text x="126.6" y="163.3" font-size="5.027932960893855" font-weight="bold" fill="#343434" textLength="48.2" lengthAdjust="spacingAndGlyphs">SERVICES</text>
<text x="141.8" y="169.1" font-size="5.027932960893855" font-weight="bold" fill="#343434" textLength="17.4" lengthAdjust="spacingAndGlyphs">LLC</text>
<text x="123.5" y="174.5" font-size="5.027932960893855" font-weight="bold" fill="#343434" textLength="59.0" lengthAdjust="spacingAndGlyphs">HALL RALPH</text>
<text x="126.7" y="187.4" font-size="5.58659217877095" font-weight="bold" fill="#343434" textLength="45.5" lengthAdjust="spacingAndGlyphs">KITCHEN</text>
<text x="129.3" y="193.6" font-size="5.58659217877095" font-weight="bold" fill="#343434" textLength="39.7" lengthAdjust="spacingAndGlyphs">JOHN M</text>
<text x="372.2" y="71.4" font-size="5.865921787709498" font-weight="bold" fill="#343434" textLength="59.8" lengthAdjust="spacingAndGlyphs">LONGHORN</text>
<text x="379.0" y="77.2" font-size="5.865921787709498" font-weight="bold" fill="#343434" textLength="46.6" lengthAdjust="spacingAndGlyphs">ESTATES</text>
<text x="377.3" y="83.1" font-size="5.865921787709498" font-weight="bold" fill="#343434" textLength="49.2" lengthAdjust="spacingAndGlyphs">&amp; CATTLE</text>
<text x="384.0" y="89.3" font-size="5.865921787709498" font-weight="bold" fill="#343434" textLength="37.0" lengthAdjust="spacingAndGlyphs">CO LLC</text>
<text x="380.0" y="139.8" font-size="6.284916201117318" font-weight="bold" fill="#343434" textLength="53.0" lengthAdjust="spacingAndGlyphs">W 61ST ST</text>
<text x="439.0" y="139.8" font-size="6.284916201117318" font-weight="bold" fill="#343434" textLength="5.5" lengthAdjust="spacingAndGlyphs">S</text>
<text x="306.2" y="183.3" font-size="6.424581005586592" font-weight="bold" fill="#343434" textLength="127.8" lengthAdjust="spacingAndGlyphs">ALSIP ENTERPRISES INC</text>
<text x="377.0" y="250.3" font-size="6.424581005586592" font-weight="bold" fill="#343434" textLength="126.0" lengthAdjust="spacingAndGlyphs">ALSIP ENTERPRISES INC</text>
<text x="188.2" y="324.6" font-size="6.424581005586592" font-weight="bold" fill="#343434" textLength="128.2" lengthAdjust="spacingAndGlyphs">ALSIP ENTERPRISES INC</text>
<text transform="translate(651.5,99.0) rotate(-90)" font-size="8.38" font-weight="bold" fill="#343434" stroke="#343434" stroke-width="0.25" textLength="42.0" lengthAdjust="spacingAndGlyphs">LARRY DON &amp;</text>
<text transform="translate(660.0,82.0) rotate(-90)" font-size="8.38" font-weight="bold" fill="#343434" stroke="#343434" stroke-width="0.25" textLength="24.0" lengthAdjust="spacingAndGlyphs">CANTRELL</text>
<text transform="translate(665.5,94.0) rotate(-90)" font-size="8.38" font-weight="bold" fill="#343434" stroke="#343434" stroke-width="0.25" textLength="28.0" lengthAdjust="spacingAndGlyphs">LINDA KAY</text>
<text transform="translate(718.5,86.0) rotate(-90)" font-size="8.38" font-weight="bold" fill="#343434" stroke="#343434" stroke-width="0.25" textLength="25.0" lengthAdjust="spacingAndGlyphs">CANTRELL</text>
<text transform="translate(723.5,98.0) rotate(-90)" font-size="8.38" font-weight="bold" fill="#343434" stroke="#343434" stroke-width="0.25" textLength="28.0" lengthAdjust="spacingAndGlyphs">LINDA KAY</text>
<text transform="translate(730.0,92.0) rotate(-90)" font-size="8.38" font-weight="bold" fill="#343434" stroke="#343434" stroke-width="0.25" textLength="36.0" lengthAdjust="spacingAndGlyphs">LARRY DON &amp;</text>
<text transform="translate(568.2,204.0) rotate(-90)" font-size="10.47" font-weight="bold" fill="#343434" stroke="#343434" stroke-width="0.25" textLength="50.0" lengthAdjust="spacingAndGlyphs">BEACH MARION W</text>
<text transform="translate(641.8,171.0) rotate(-90)" font-size="7.68" font-weight="bold" fill="#343434" stroke="#343434" stroke-width="0.25" textLength="26.0" lengthAdjust="spacingAndGlyphs">FRAZIER R</text>
<text transform="translate(651.2,167.0) rotate(-90)" font-size="7.68" font-weight="bold" fill="#343434" stroke="#343434" stroke-width="0.25" textLength="17.0" lengthAdjust="spacingAndGlyphs">JAME S</text>
<text transform="translate(660.2,172.0) rotate(-90)" font-size="7.68" font-weight="bold" fill="#343434" stroke="#343434" stroke-width="0.25" textLength="31.0" lengthAdjust="spacingAndGlyphs">FAMILY TRUST</text>
<text x="642.8" y="178.6" font-size="6.005586592178771" font-weight="bold" fill="#343434" textLength="49.3" lengthAdjust="spacingAndGlyphs">CANTREL</text>
<text x="645.0" y="184.3" font-size="6.005586592178771" font-weight="bold" fill="#343434" textLength="45.3" lengthAdjust="spacingAndGlyphs">LARRY D</text>
<text x="642.1" y="191.0" font-size="6.005586592178771" font-weight="bold" fill="#343434" textLength="50.9" lengthAdjust="spacingAndGlyphs">&amp; LINDA K</text>
<text x="647.7" y="196.7" font-size="5.726256983240223" font-weight="bold" fill="#343434" textLength="39.8" lengthAdjust="spacingAndGlyphs">BECKER</text>
<text x="642.2" y="202.2" font-size="5.726256983240223" font-weight="bold" fill="#343434" textLength="54.2" lengthAdjust="spacingAndGlyphs">BARBARA L</text>
<text x="636.7" y="210.7" font-size="5.865921787709498" font-weight="bold" fill="#343434" textLength="68.6" lengthAdjust="spacingAndGlyphs">REVOC TRUST</text>
<text x="646.6" y="217.9" font-size="5.726256983240223" font-weight="bold" fill="#343434" textLength="43.7" lengthAdjust="spacingAndGlyphs">BALLARD</text>
<text x="647.1" y="223.6" font-size="5.726256983240223" font-weight="bold" fill="#343434" textLength="43.2" lengthAdjust="spacingAndGlyphs">SAMMY &amp;</text>
<text x="636.6" y="229.3" font-size="5.58659217877095" font-weight="bold" fill="#343434" textLength="69.7" lengthAdjust="spacingAndGlyphs">KATHY REVOC</text>
<text transform="translate(735.2,224.0) rotate(-90)" font-size="10.47" font-weight="bold" fill="#343434" stroke="#343434" stroke-width="0.25" textLength="69.0" lengthAdjust="spacingAndGlyphs">MILLS GARRET DOUGLAS</text>
<text transform="translate(779.2,211.0) rotate(-90)" font-size="10.47" font-weight="bold" fill="#343434" stroke="#343434" stroke-width="0.25" textLength="52.0" lengthAdjust="spacingAndGlyphs">BARTEN MATTHEW</text>
<text x="580.9" y="217.9" font-size="5.446927374301676" font-weight="bold" fill="#343434" textLength="42.5" lengthAdjust="spacingAndGlyphs">BALLARD</text>
<text x="577.7" y="223.9" font-size="5.446927374301676" font-weight="bold" fill="#343434" textLength="48.0" lengthAdjust="spacingAndGlyphs">BRYAN R &amp;</text>
<text x="579.3" y="229.2" font-size="5.446927374301676" font-weight="bold" fill="#343434" textLength="48.0" lengthAdjust="spacingAndGlyphs">TIFFANY L</text>
<text transform="translate(631.0,246.0) rotate(-90)" font-size="8.38" font-weight="bold" fill="#343434" stroke="#343434" stroke-width="0.25" textLength="51.0" lengthAdjust="spacingAndGlyphs">S 51ST WEST AVE</text>
<text x="517.9" y="253.5" font-size="5.58659217877095" font-weight="bold" fill="#343434" textLength="97.6" lengthAdjust="spacingAndGlyphs">PURVIS JENNIFFER</text>
<text transform="translate(655.0,268.0) rotate(-90)" font-size="9.78" font-weight="bold" fill="#343434" stroke="#343434" stroke-width="0.25" textLength="20.0" lengthAdjust="spacingAndGlyphs">PURVIS</text>
<text transform="translate(668.0,273.0) rotate(-90)" font-size="9.78" font-weight="bold" fill="#343434" stroke="#343434" stroke-width="0.25" textLength="33.0" lengthAdjust="spacingAndGlyphs">JENNIFFER</text>
<text transform="translate(679.0,260.0) rotate(-90)" font-size="6.98" font-weight="bold" fill="#343434" stroke="#343434" stroke-width="0.25" textLength="6.0" lengthAdjust="spacingAndGlyphs">1/2</text>
<text transform="translate(56.9,224.0) rotate(-90)" font-size="11.17" font-weight="bold" fill="#343434" stroke="#343434" stroke-width="0.25" textLength="36.2" lengthAdjust="spacingAndGlyphs">HENDER SON</text>
<text transform="translate(68.5,222.3) rotate(-90)" font-size="10.61" font-weight="bold" fill="#343434" stroke="#343434" stroke-width="0.25" textLength="32.1" lengthAdjust="spacingAndGlyphs">DOUGLAS K</text>
<text transform="translate(80.0,220.3) rotate(-90)" font-size="11.17" font-weight="bold" fill="#343434" stroke="#343434" stroke-width="0.25" textLength="25.3" lengthAdjust="spacingAndGlyphs">&amp; CHRIS</text>
<text transform="translate(91.4,220.3) rotate(-90)" font-size="10.61" font-weight="bold" fill="#343434" stroke="#343434" stroke-width="0.25" textLength="27.7" lengthAdjust="spacingAndGlyphs">LIV TRUST</text>
<text transform="translate(108.5,254.0) rotate(-90)" font-size="11.17" font-weight="bold" fill="#343434" stroke="#343434" stroke-width="0.25" textLength="39.0" lengthAdjust="spacingAndGlyphs">S HIGHWAY 99</text>
<text transform="translate(175.9,243.8) rotate(-90)" font-size="10.47" font-weight="bold" fill="#343434" stroke="#343434" stroke-width="0.25" textLength="33.1" lengthAdjust="spacingAndGlyphs">DUNLAP OIL</text>
<text transform="translate(186.8,244.6) rotate(-90)" font-size="10.47" font-weight="bold" fill="#343434" stroke="#343434" stroke-width="0.25" textLength="36.1" lengthAdjust="spacingAndGlyphs">PROPERTI ES</text>
<text transform="translate(198.7,231.7) rotate(-90)" font-size="9.78" font-weight="bold" fill="#343434" stroke="#343434" stroke-width="0.25" textLength="9.8" lengthAdjust="spacingAndGlyphs">LLC</text>
<text transform="translate(126.5,284.0) rotate(-90)" font-size="6.98" font-weight="bold" fill="#343434" stroke="#343434" stroke-width="0.25" textLength="32.0" lengthAdjust="spacingAndGlyphs">WINDO TRAVIS</text>
<text transform="translate(135.5,274.0) rotate(-90)" font-size="6.98" font-weight="bold" fill="#343434" stroke="#343434" stroke-width="0.25" textLength="12.0" lengthAdjust="spacingAndGlyphs">GENE</text>
<text x="52.2" y="271.9" font-size="5.167597765363129" font-weight="bold" fill="#343434" textLength="45.8" lengthAdjust="spacingAndGlyphs">RODGERS</text>
<text x="43.4" y="277.1" font-size="5.167597765363129" font-weight="bold" fill="#343434" textLength="63.4" lengthAdjust="spacingAndGlyphs">GREGORY L &amp;</text>
<text x="51.2" y="282.2" font-size="5.167597765363129" font-weight="bold" fill="#343434" textLength="47.5" lengthAdjust="spacingAndGlyphs">DELINDA E</text>
<text x="57.8" y="303.8" font-size="5.865921787709498" font-weight="bold" fill="#343434" textLength="46.4" lengthAdjust="spacingAndGlyphs">LASATER</text>
<text x="55.3" y="309.7" font-size="5.865921787709498" font-weight="bold" fill="#343434" textLength="51.0" lengthAdjust="spacingAndGlyphs">HUNTER J</text>
<text x="204.0" y="288.5" font-size="5.58659217877095" font-weight="bold" fill="#343434" textLength="54.0" lengthAdjust="spacingAndGlyphs">BURROWS</text>
<text x="203.4" y="294.7" font-size="5.865921787709498" font-weight="bold" fill="#343434" textLength="55.0" lengthAdjust="spacingAndGlyphs">AMANDA  L</text>
<text x="203.4" y="300.6" font-size="5.726256983240223" font-weight="bold" fill="#343434" textLength="53.0" lengthAdjust="spacingAndGlyphs">&amp; WILLIAM</text>
<text transform="translate(129.5,337.0) rotate(-90)" font-size="11.17" font-weight="bold" fill="#343434" stroke="#343434" stroke-width="0.25" textLength="40.0" lengthAdjust="spacingAndGlyphs">STUDE BAK ER</text>
<text transform="translate(140.8,330.0) rotate(-90)" font-size="10.47" font-weight="bold" fill="#343434" stroke="#343434" stroke-width="0.25" textLength="24.0" lengthAdjust="spacingAndGlyphs">JOHNNY</text>
<text transform="translate(153.8,331.0) rotate(-90)" font-size="10.47" font-weight="bold" fill="#343434" stroke="#343434" stroke-width="0.25" textLength="25.0" lengthAdjust="spacingAndGlyphs">&amp; MANDY</text>
<text transform="translate(80.8,378.0) rotate(-90)" font-size="10.47" font-weight="bold" fill="#343434" stroke="#343434" stroke-width="0.25" textLength="46.0" lengthAdjust="spacingAndGlyphs">WOOD JERROD &amp;</text>
<text transform="translate(123.0,388.0) rotate(-90)" font-size="8.38" font-weight="bold" fill="#343434" stroke="#343434" stroke-width="0.25" textLength="26.0" lengthAdjust="spacingAndGlyphs">HIGHWAY</text>
<text transform="translate(426.0,358.5) rotate(-90)" font-size="10.34" font-weight="bold" fill="#343434" stroke="#343434" stroke-width="0.25" textLength="46.0" lengthAdjust="spacingAndGlyphs">STOKES GLENDA</text>
<text transform="translate(438.4,355.3) rotate(-90)" font-size="9.78" font-weight="bold" fill="#343434" stroke="#343434" stroke-width="0.25" textLength="38.0" lengthAdjust="spacingAndGlyphs">J REVOCABLE</text>
<text transform="translate(449.7,345.7) rotate(-90)" font-size="9.78" font-weight="bold" fill="#343434" stroke="#343434" stroke-width="0.25" textLength="19.8" lengthAdjust="spacingAndGlyphs">TR UST</text>
<text transform="translate(579.5,387.0) rotate(-90)" font-size="11.17" font-weight="bold" fill="#343434" stroke="#343434" stroke-width="0.25" textLength="48.0" lengthAdjust="spacingAndGlyphs">24-OILTON-80 LLC</text>
<text transform="translate(651.0,316.0) rotate(-90)" font-size="9.78" font-weight="bold" fill="#343434" stroke="#343434" stroke-width="0.25" textLength="21.0" lengthAdjust="spacingAndGlyphs">PURVIS</text>
<text transform="translate(663.8,321.0) rotate(-90)" font-size="10.47" font-weight="bold" fill="#343434" stroke="#343434" stroke-width="0.25" textLength="32.0" lengthAdjust="spacingAndGlyphs">MATTHEW &amp;</text>
<text transform="translate(675.8,322.0) rotate(-90)" font-size="10.47" font-weight="bold" fill="#343434" stroke="#343434" stroke-width="0.25" textLength="33.0" lengthAdjust="spacingAndGlyphs">JENNIFFER</text>
<text x="642.0" y="330.9" font-size="6.284916201117318" font-weight="bold" fill="#343434" textLength="102.0" lengthAdjust="spacingAndGlyphs">WYCHE REV TRUST</text>
<text transform="translate(773.0,340.0) rotate(-90)" font-size="6.98" font-weight="bold" fill="#343434" stroke="#343434" stroke-width="0.25" textLength="21.0" lengthAdjust="spacingAndGlyphs">ROBINSO</text>
<text transform="translate(782.5,340.0) rotate(-90)" font-size="5.59" font-weight="bold" fill="#343434" stroke="#343434" stroke-width="0.25" textLength="4.0" lengthAdjust="spacingAndGlyphs">N</text>
<text transform="translate(795.0,340.0) rotate(-90)" font-size="6.98" font-weight="bold" fill="#343434" stroke="#343434" stroke-width="0.25" textLength="21.0" lengthAdjust="spacingAndGlyphs">ELIZABET</text>
<text transform="translate(804.5,340.0) rotate(-90)" font-size="5.59" font-weight="bold" fill="#343434" stroke="#343434" stroke-width="0.25" textLength="4.0" lengthAdjust="spacingAndGlyphs">H</text>
<text x="643.0" y="386.2" font-size="6.284916201117318" font-weight="bold" fill="#343434" textLength="115.0" lengthAdjust="spacingAndGlyphs">BRAY RALPH EDWARD</text>
<text transform="translate(772.5,389.0) rotate(-90)" font-size="9.78" font-weight="bold" fill="#343434" stroke="#343434" stroke-width="0.25" textLength="20.0" lengthAdjust="spacingAndGlyphs">ROBINS</text>
<text transform="translate(785.5,389.0) rotate(-90)" font-size="9.78" font-weight="bold" fill="#343434" stroke="#343434" stroke-width="0.25" textLength="31.0" lengthAdjust="spacingAndGlyphs">ON ELI ZAB</text>
<text transform="translate(797.0,389.0) rotate(-90)" font-size="9.78" font-weight="bold" fill="#343434" stroke="#343434" stroke-width="0.25" textLength="12.0" lengthAdjust="spacingAndGlyphs">ETH</text>
<text x="53.0" y="407.7" font-size="5.865921787709498" font-weight="bold" fill="#343434" textLength="42.0" lengthAdjust="spacingAndGlyphs">BARNES</text>
<text x="50.0" y="413.7" font-size="5.865921787709498" font-weight="bold" fill="#343434" textLength="48.0" lengthAdjust="spacingAndGlyphs">TAMI KAE</text>
<text x="34.0" y="423.9" font-size="6.284916201117318" font-weight="bold" fill="#343434" textLength="52.0" lengthAdjust="spacingAndGlyphs">CROW.RD</text>
<text transform="translate(171.8,417.0) rotate(-90)" font-size="10.47" font-weight="bold" fill="#343434" stroke="#343434" stroke-width="0.25" textLength="52.0" lengthAdjust="spacingAndGlyphs">BRADY KENNETH L</text>
<text transform="translate(208.5,381.0) rotate(-90)" font-size="9.78" font-weight="bold" fill="#343434" stroke="#343434" stroke-width="0.25" textLength="21.0" lengthAdjust="spacingAndGlyphs">STOKES</text>
<text transform="translate(218.5,382.0) rotate(-90)" font-size="9.78" font-weight="bold" fill="#343434" stroke="#343434" stroke-width="0.25" textLength="24.0" lengthAdjust="spacingAndGlyphs">GLENDA J</text>
<text transform="translate(229.0,386.0) rotate(-90)" font-size="9.78" font-weight="bold" fill="#343434" stroke="#343434" stroke-width="0.25" textLength="31.0" lengthAdjust="spacingAndGlyphs">REVOCABLE</text>
<text transform="translate(240.2,380.0) rotate(-90)" font-size="9.08" font-weight="bold" fill="#343434" stroke="#343434" stroke-width="0.25" textLength="24.0" lengthAdjust="spacingAndGlyphs">TRU S T</text>
<text x="252.0" y="405.2" font-size="6.284916201117318" font-weight="bold" fill="#343434" textLength="97.0" lengthAdjust="spacingAndGlyphs">STOKES GLENDA J</text>
<text x="417.6" y="398.1" font-size="5.58659217877095" font-weight="bold" fill="#343434" textLength="47.2" lengthAdjust="spacingAndGlyphs">SELLERS</text>
<text x="422.4" y="403.6" font-size="5.58659217877095" font-weight="bold" fill="#343434" textLength="37.6" lengthAdjust="spacingAndGlyphs">FAMILY</text>
<text x="404.2" y="410.3" font-size="5.58659217877095" font-weight="bold" fill="#343434" textLength="75.8" lengthAdjust="spacingAndGlyphs">PARTNERSHIP</text>
<text x="538.0" y="417.2" font-size="6.284916201117318" font-weight="bold" fill="#343434" textLength="62.0" lengthAdjust="spacingAndGlyphs">W 71ST ST S</text>
<text x="741.0" y="419.2" font-size="6.284916201117318" font-weight="bold" fill="#343434" textLength="30.0" lengthAdjust="spacingAndGlyphs">ROAD</text>
<text x="648.0" y="432.6" font-size="6.005586592178771" font-weight="bold" fill="#343434" textLength="43.0" lengthAdjust="spacingAndGlyphs">BARNES</text>
<text x="652.0" y="438.5" font-size="6.005586592178771" font-weight="bold" fill="#343434" textLength="35.0" lengthAdjust="spacingAndGlyphs">SCOTT</text>
<text x="653.0" y="444.5" font-size="6.005586592178771" font-weight="bold" fill="#343434" textLength="33.0" lengthAdjust="spacingAndGlyphs">ALLAN</text>
<text transform="translate(733.2,481.0) rotate(-90)" font-size="10.47" font-weight="bold" fill="#343434" stroke="#343434" stroke-width="0.25" textLength="48.0" lengthAdjust="spacingAndGlyphs">BARNES TEDDY H</text>
<text transform="translate(664.0,497.0) rotate(-90)" font-size="9.78" font-weight="bold" fill="#343434" stroke="#343434" stroke-width="0.25" textLength="24.0" lengthAdjust="spacingAndGlyphs">BARNE S</text>
<text transform="translate(676.5,498.0) rotate(-90)" font-size="9.78" font-weight="bold" fill="#343434" stroke="#343434" stroke-width="0.25" textLength="26.0" lengthAdjust="spacingAndGlyphs">ROBYN M</text>
<text transform="translate(560.8,456.0) rotate(-90)" font-size="10.47" font-weight="bold" fill="#343434" stroke="#343434" stroke-width="0.25" textLength="32.0" lengthAdjust="spacingAndGlyphs">MSTIBBENS</text>
<text transform="translate(611.0,465.0) rotate(-90)" font-size="11.17" font-weight="bold" fill="#343434" stroke="#343434" stroke-width="0.25" textLength="43.0" lengthAdjust="spacingAndGlyphs">SHERMAN LEDA</text>
<text x="462.0" y="440.7" font-size="5.865921787709498" font-weight="bold" fill="#343434" textLength="51.0" lengthAdjust="spacingAndGlyphs">STIBBENS</text>
<text x="462.0" y="447.1" font-size="5.865921787709498" font-weight="bold" fill="#343434" textLength="51.0" lengthAdjust="spacingAndGlyphs">MIKLE E &amp;</text>
<text x="453.0" y="453.1" font-size="5.865921787709498" font-weight="bold" fill="#343434" textLength="68.0" lengthAdjust="spacingAndGlyphs">STEPHANIE J</text>
<text x="462.0" y="485.8" font-size="6.005586592178771" font-weight="bold" fill="#343434" textLength="138.6" lengthAdjust="spacingAndGlyphs">BARTON ALLEN L &amp; MARY J</text>
<text transform="translate(392.5,497.0) rotate(-90)" font-size="11.17" font-weight="bold" fill="#343434" stroke="#343434" stroke-width="0.25" textLength="67.0" lengthAdjust="spacingAndGlyphs">WILSON KIMBERLY SUE</text>
<text transform="translate(421.5,498.0) rotate(-90)" font-size="11.17" font-weight="bold" fill="#343434" stroke="#343434" stroke-width="0.25" textLength="56.0" lengthAdjust="spacingAndGlyphs">WILSON KIMBERLY SUE</text>
<text x="387.0" y="497.1" font-size="6.005586592178771" font-weight="bold" fill="#343434" textLength="87.0" lengthAdjust="spacingAndGlyphs">STOKES GLENDA</text>
<text x="393.0" y="503.1" font-size="6.005586592178771" font-weight="bold" fill="#343434" textLength="72.0" lengthAdjust="spacingAndGlyphs">J REVOCABLE</text>
<text x="413.0" y="509.5" font-size="6.005586592178771" font-weight="bold" fill="#343434" textLength="33.0" lengthAdjust="spacingAndGlyphs">TRUST</text>
<text transform="translate(90.5,492.0) rotate(-90)" font-size="9.78" font-weight="bold" fill="#343434" stroke="#343434" stroke-width="0.25" textLength="25.0" lengthAdjust="spacingAndGlyphs">MA NUEL</text>
<text transform="translate(103.8,500.0) rotate(-90)" font-size="10.47" font-weight="bold" fill="#343434" stroke="#343434" stroke-width="0.25" textLength="49.0" lengthAdjust="spacingAndGlyphs">HIGH CORPORATION</text>
<text transform="translate(116.0,492.0) rotate(-90)" font-size="9.78" font-weight="bold" fill="#343434" stroke="#343434" stroke-width="0.25" textLength="27.0" lengthAdjust="spacingAndGlyphs">HIGHWAY</text>
<text x="226.8" y="459.8" font-size="5.58659217877095" font-weight="bold" fill="#343434" textLength="49.5" lengthAdjust="spacingAndGlyphs">WOOD JR</text>
<text x="225.8" y="466.0" font-size="5.58659217877095" font-weight="bold" fill="#343434" textLength="52.4" lengthAdjust="spacingAndGlyphs">&amp; RACHEL</text>
<text x="233.6" y="472.1" font-size="5.58659217877095" font-weight="bold" fill="#343434" textLength="36.4" lengthAdjust="spacingAndGlyphs">FAMILY</text>
<text x="235.5" y="478.2" font-size="5.58659217877095" font-weight="bold" fill="#343434" textLength="33.0" lengthAdjust="spacingAndGlyphs">TRUST</text>
<line x1="822.5" y1="0" x2="822.5" y2="560" stroke="#ececec" stroke-width="1.0" stroke-linecap="butt"/>
</svg>
</body></html>
